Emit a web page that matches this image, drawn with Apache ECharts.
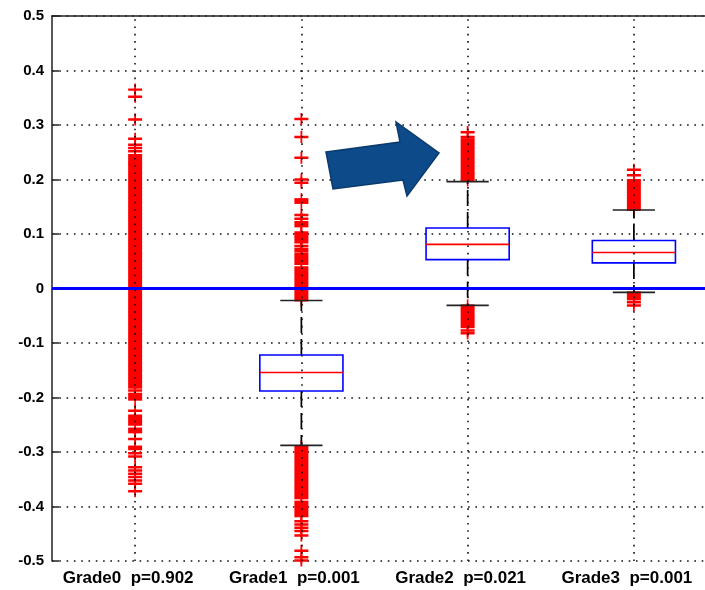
<!DOCTYPE html>
<html>
<head>
<meta charset="utf-8">
<script src="https://cdn.jsdelivr.net/npm/echarts@6/dist/echarts.min.js"></script>
<style>
  html, body { margin: 0; padding: 0; background: #fff; }
  #chart { width: 705px; height: 590px; }
</style>
</head>
<body>
<div id="chart"></div>
<script>
// categories along the x axis
var categories = ['Grade0  p=0.902', 'Grade1  p=0.001', 'Grade2  p=0.021', 'Grade3  p=0.001'];

// box statistics per grade (whisker low, q1, median, q3, whisker high)
var whiskerLow  = [0, -0.288, -0.031, -0.007];
var q1          = [0, -0.188,  0.053,  0.047];
var median      = [0, -0.154,  0.081,  0.066];
var q3          = [0, -0.122,  0.111,  0.088];
var whiskerHigh = [0, -0.022,  0.196,  0.144];

// single outliers ('+') per grade
var outliers0 = [0.365, 0.352, 0.31, 0.275, 0.264, 0.258, 0.252, 0.229,
                 -0.187, -0.224, -0.276, -0.302, -0.308, -0.328, -0.334,
                 -0.34, -0.346, -0.352, -0.358, -0.372];
var outliers1 = [0.311, 0.278, 0.24, 0.2, 0.194, 0.135, 0.128, 0.103, 0.085, 0.078,
                 -0.427, -0.433, -0.439, -0.445, -0.453, -0.481, -0.493, -0.499];
var outliers2 = [0.287, 0.278, -0.077, -0.082];
var outliers3 = [0.218, 0.208, -0.025, -0.031];

// stretches where the outliers are so dense that the '+' marks merge [from, to]
var dense0 = [[0.232, 0.245], [-0.182, 0.226], [-0.204, -0.193], [-0.25, -0.233], [-0.264, -0.257], [-0.295, -0.29]];
var dense1 = [[-0.385, -0.289], [-0.418, -0.391], [0.157, 0.164], [0.114, 0.122], [0.089, 0.1], [0.068, 0.073], [0.045, 0.064], [-0.022, 0.039]];
var dense2 = [[0.198, 0.274], [-0.071, -0.031]];
var dense3 = [[0.144, 0.199], [-0.02, -0.007]];

var boxData = categories.map(function (c, i) {
  return [i, whiskerLow[i], q1[i], median[i], q3[i], whiskerHigh[i]];
});

var outlierData = [];
[outliers0, outliers1, outliers2, outliers3].forEach(function (arr, i) {
  arr.forEach(function (v) { outlierData.push([i, v]); });
});

var denseData = [];
[dense0, dense1, dense2, dense3].forEach(function (arr, i) {
  arr.forEach(function (r) { denseData.push([i, r[0], r[1]]); });
});

var RED = '#ff0000';
var BLUE = '#0000ff';
var dotted = { color: '#111', width: 1.6, type: [1.6, 5.7] };

function renderBox(params, api) {
  var idx = api.value(0);
  var band = api.size([1, 0])[0];
  var x = api.coord([idx, 0])[0];
  var bh = band * 0.25;     // box half width
  var ch = band * 0.127;    // cap half width
  var yLo = api.coord([idx, api.value(1)])[1];
  var yQ1 = api.coord([idx, api.value(2)])[1];
  var yMd = api.coord([idx, api.value(3)])[1];
  var yQ3 = api.coord([idx, api.value(4)])[1];
  var yHi = api.coord([idx, api.value(5)])[1];
  var dash = { stroke: '#000', lineWidth: 1.7, lineDash: [16, 6] };
  var solid = { stroke: '#222', lineWidth: 1.7 };
  return {
    type: 'group',
    children: [
      { type: 'line', shape: { x1: x, y1: yQ3, x2: x, y2: yHi }, style: dash },
      { type: 'line', shape: { x1: x, y1: yQ1, x2: x, y2: yLo }, style: dash },
      { type: 'line', shape: { x1: x - ch, y1: yHi, x2: x + ch, y2: yHi }, style: solid },
      { type: 'line', shape: { x1: x - ch, y1: yLo, x2: x + ch, y2: yLo }, style: solid },
      { type: 'rect', shape: { x: x - bh, y: yQ3, width: bh * 2, height: yQ1 - yQ3 },
        style: { fill: 'rgba(0,0,0,0)', stroke: BLUE, lineWidth: 1.6 } },
      { type: 'line', shape: { x1: x - bh, y1: yMd, x2: x + bh, y2: yMd },
        style: { stroke: RED, lineWidth: 1.6 } }
    ]
  };
}

function renderDense(params, api) {
  var idx = api.value(0);
  var x = api.coord([idx, 0])[0];
  var yA = api.coord([idx, api.value(2)])[1];
  var yB = api.coord([idx, api.value(1)])[1];
  return {
    type: 'group',
    children: [
      { type: 'rect', shape: { x: x - 7, y: yA - 1, width: 14, height: yB - yA + 2 }, style: { fill: RED } },
      { type: 'line', shape: { x1: x, y1: yA - 6, x2: x, y2: yB + 6 }, style: { stroke: RED, lineWidth: 1.6 } }
    ]
  };
}

var chart = echarts.init(document.getElementById('chart'));

chart.setOption({
  animation: false,
  backgroundColor: '#fff',
  grid: { left: 52, top: 16, right: -12, bottom: 29, outerBoundsMode: 'none', containLabel: false },
  xAxis: [
    {
      type: 'category',
      data: categories,
      position: 'bottom',
      axisLine: { lineStyle: { color: '#222', width: 1.5 } },
      axisTick: { inside: true, alignWithLabel: true, length: 7, lineStyle: { color: '#222', width: 1.5 } },
      axisLabel: {
        color: '#000', fontWeight: 'bold', fontSize: 17, fontFamily: 'Liberation Sans',
        margin: 9, interval: 0, padding: [0, 14, 0, 0]
      },
      splitLine: { show: false }
    },
    {
      type: 'category',
      data: categories,
      position: 'top',
      axisLine: { lineStyle: { color: '#222', width: 1.5 } },
      axisTick: { inside: true, alignWithLabel: true, length: 7, lineStyle: { color: '#222', width: 1.5 } },
      axisLabel: { show: false },
      splitLine: { show: false }
    }
  ],
  yAxis: {
    type: 'value',
    min: -0.5,
    max: 0.5,
    interval: 0.1,
    axisLine: { show: true, lineStyle: { color: '#222', width: 1.5 } },
    axisTick: { show: true, inside: true, length: 7, lineStyle: { color: '#222', width: 1.5 } },
    axisLabel: {
      color: '#000', fontWeight: 'bold', fontSize: 15, fontFamily: 'Liberation Sans', margin: 8,
      formatter: function (v) { return String(Math.round(v * 10) / 10); }
    },
    splitLine: { show: true, lineStyle: dotted }
  },
  series: [
    {
      // vertical dotted grid lines through each grade
      type: 'line',
      data: [],
      z: 1,
      silent: true,
      markLine: {
        silent: true,
        symbol: 'none',
        label: { show: false },
        lineStyle: dotted,
        data: categories.map(function (c) { return { xAxis: c }; })
      }
    },
    {
      type: 'custom',
      name: 'dense',
      z: 3,
      renderItem: renderDense,
      encode: { x: 0, y: [1, 2] },
      data: denseData
    },
    {
      type: 'scatter',
      name: 'outliers',
      z: 3,
      symbol: 'path://M0,5H14V7.6H0Z M6.1,0H7.9V12.5H6.1Z',
      symbolSize: [14, 12],
      itemStyle: { color: RED, opacity: 1 },
      data: outlierData
    },
    {
      type: 'custom',
      name: 'box',
      z: 4,
      renderItem: renderBox,
      encode: { x: 0, y: [1, 2, 3, 4, 5] },
      data: boxData
    },
    {
      // zero reference line
      type: 'line',
      data: [],
      z: 20,
      silent: true,
      markLine: {
        silent: true,
        symbol: 'none',
        label: { show: false },
        lineStyle: { color: BLUE, width: 3, type: 'solid' },
        data: [{ yAxis: 0 }]
      }
    }
  ],
  graphic: [
    {
      type: 'polygon',
      z: 30,
      shape: { points: [[326, 152], [400, 142], [396, 122], [439, 153], [407, 196], [403, 180], [333, 189]] },
      style: { fill: '#0d4a8a', stroke: '#0a3a6c', lineWidth: 1.5 }
    }
  ]
});
</script>
</body>
</html>
